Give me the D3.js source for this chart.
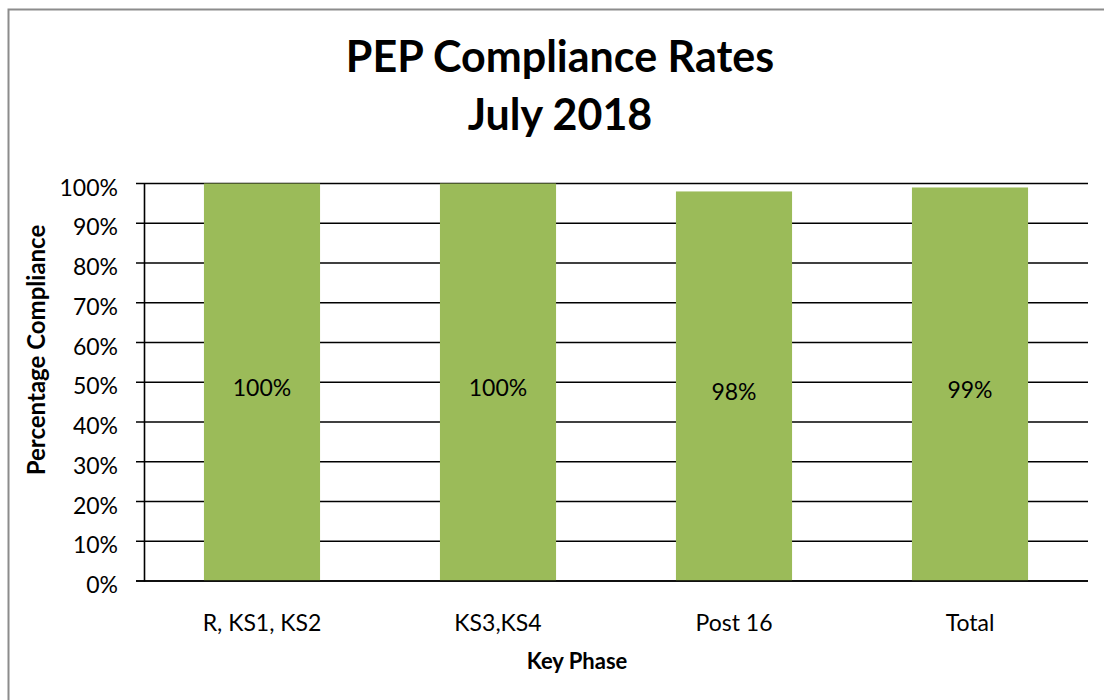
<!DOCTYPE html>
<html>
<head>
<meta charset="utf-8">
<script src="https://cdn.jsdelivr.net/npm/d3@7"></script>
<style>
  body { margin: 0; background: #fff; }
  svg { display: block; font-family: Lato, "Open Sans", sans-serif; }
</style>
</head>
<body>
<div id="chart"></div>
<script>
// data
var categories = ['R, KS1, KS2', 'KS3,KS4', 'Post 16', 'Total'];
var compliance = [100, 100, 98, 99];
var labels = ['100%', '100%', '98%', '99%'];
var yTicks = [0, 10, 20, 30, 40, 50, 60, 70, 80, 90, 100];

var width = 1104,
    height = 700,
    margin = {top: 183.5, right: 16, bottom: 119, left: 144};

var svg = d3.select('#chart')
    .append('svg')
    .attr('width', width)
    .attr('height', height);

// outer border (cut off on right and bottom like the reference)
svg.append('rect')
    .attr('x', 8.5)
    .attr('y', 9.5)
    .attr('width', width + 20)
    .attr('height', height + 20)
    .attr('fill', 'none')
    .attr('stroke', '#8c8c8c')
    .attr('stroke-width', 2);

// title
var title = svg.append('text')
    .attr('text-anchor', 'middle')
    .attr('font-weight', 'bold')
    .attr('font-size', 43)
    .attr('fill', '#000');
title.append('tspan').attr('x', 560).attr('y', 72).text('PEP Compliance Rates');
title.append('tspan').attr('x', 560).attr('y', 130).text('July 2018');

var x = d3.scaleBand()
    .domain(categories)
    .range([margin.left, width - margin.right])
    .paddingInner(0.508)
    .paddingOuter(0.254);

var y = d3.scaleLinear()
    .domain([0, 100])
    .range([height - margin.bottom, margin.top]);

// gridlines
svg.append('g')
    .attr('class', 'grid')
    .selectAll('line')
    .data(yTicks)
    .enter().append('line')
    .attr('x1', margin.left - 8)
    .attr('x2', width - margin.right)
    .attr('y1', d => y(d))
    .attr('y2', d => y(d))
    .attr('stroke', '#000')
    .attr('stroke-width', 1.6);

// y axis
var yAxis = d3.axisLeft(y)
    .tickValues(yTicks)
    .tickFormat(d => d + '%')
    .tickSize(0)
    .tickPadding(26);

var gy = svg.append('g')
    .attr('transform', `translate(${margin.left},0)`)
    .call(yAxis);
gy.select('.domain')
    .attr('stroke', '#000')
    .attr('stroke-width', 1.6);
gy.selectAll('text')
    .attr('font-family', 'Lato, "Open Sans", sans-serif')
    .attr('font-size', 23)
    .attr('fill', '#000')
    .attr('dy', '0.5em');

// bars
svg.append('g')
    .selectAll('rect')
    .data(compliance)
    .enter().append('rect')
    .attr('x', (d, i) => x(categories[i]))
    .attr('y', d => y(d))
    .attr('width', x.bandwidth())
    .attr('height', d => y(0) - y(d))
    .attr('fill', '#9BBB59');

// redraw baseline over bars
svg.append('line')
    .attr('x1', margin.left - 8)
    .attr('x2', width - margin.right)
    .attr('y1', y(0))
    .attr('y2', y(0))
    .attr('stroke', '#000')
    .attr('stroke-width', 1.6);

// data labels
svg.append('g')
    .selectAll('text')
    .data(compliance)
    .enter().append('text')
    .attr('x', (d, i) => x(categories[i]) + x.bandwidth() / 2)
    .attr('y', d => y(d / 2) + 14)
    .attr('text-anchor', 'middle')
    .attr('font-size', 23)
    .attr('fill', '#000')
    .text((d, i) => labels[i]);

// x axis labels
var xAxis = d3.axisBottom(x).tickSize(0).tickPadding(34);
var gx = svg.append('g')
    .attr('transform', `translate(0,${y(0)})`)
    .call(xAxis);
gx.select('.domain').remove();
gx.selectAll('text')
    .attr('font-family', 'Lato, "Open Sans", sans-serif')
    .attr('font-size', 23)
    .attr('fill', '#000');

// axis titles
svg.append('text')
    .attr('x', 577)
    .attr('y', 669)
    .attr('text-anchor', 'middle')
    .attr('font-weight', 'bold')
    .attr('font-size', 22)
    .text('Key Phase');

svg.append('text')
    .attr('transform', 'translate(45,350) rotate(-90)')
    .attr('text-anchor', 'middle')
    .attr('font-weight', 'bold')
    .attr('font-size', 24)
    .text('Percentage Compliance');
</script>
</body>
</html>
